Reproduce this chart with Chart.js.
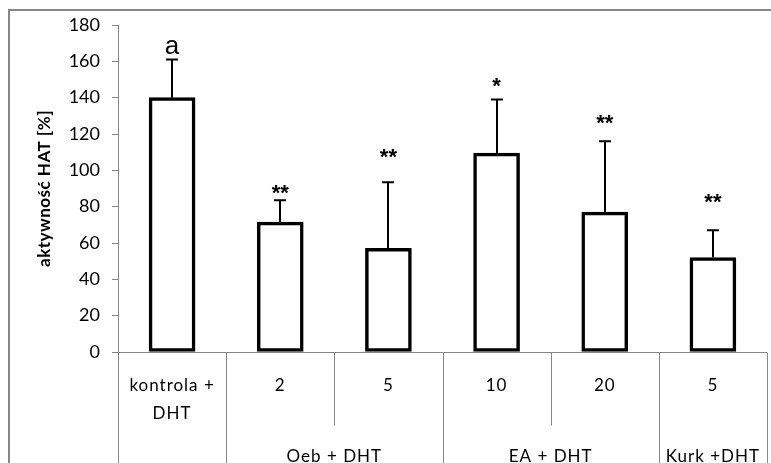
<!DOCTYPE html>
<html>
<head>
<meta charset="utf-8">
<script src="https://cdn.jsdelivr.net/npm/chart.js@4/dist/chart.umd.min.js"></script>
<style>
  html, body { margin: 0; padding: 0; background: #fff; }
  #wrap { width: 771px; height: 463px; position: relative; }
</style>
</head>
<body>
<div id="wrap"><canvas id="c" width="771" height="463"></canvas></div>
<script>
// ---- data ----
const categories = [['kontrola +', 'DHT'], ['2'], ['5'], ['10'], ['20'], ['5']];
const groupLabels = ['', 'Oeb + DHT', 'EA + DHT', 'Kurk +DHT'];
const groupSpans = [1, 2, 2, 1];
const values = [140, 71.5, 57, 109.5, 77, 52];
const errorsUp = [21, 12, 36.5, 29.5, 39, 15];
const marks = ['a', '**', '**', '*', '**', '**'];
const markLevels = [168, 89, 109, 148, 128, 84];
const yTicks = [0, 20, 40, 60, 80, 100, 120, 140, 160, 180];
const yTitle = 'aktywność HAT [%]';

const GRAY = '#868686';
const FONT = 'Lato, "Open Sans", sans-serif';

const decor = {
  id: 'decor',
  afterDraw(chart) {
    const ctx = chart.ctx;
    const xs = chart.scales.x, ys = chart.scales.y;
    const ca = chart.chartArea;
    const n = categories.length;
    const bounds = [];
    for (let i = 0; i <= n; i++) {
      if (i === 0) bounds.push(ca.left);
      else if (i === n) bounds.push(ca.right);
      else bounds.push((xs.getPixelForValue(i - 1) + xs.getPixelForValue(i)) / 2);
    }
    ctx.save();
    // outer frame
    ctx.strokeStyle = GRAY;
    ctx.lineWidth = 2;
    ctx.beginPath();
    ctx.moveTo(9, 463); ctx.lineTo(9, 10); ctx.lineTo(771, 10);
    ctx.stroke();
    // x axis line
    ctx.lineWidth = 1;
    const y0 = Math.round(ys.getPixelForValue(0)) + 0.5;
    ctx.beginPath();
    ctx.moveTo(ca.left, y0); ctx.lineTo(ca.right, y0);
    ctx.stroke();
    // dividers
    const groupBounds = new Set([0]);
    let acc = 0;
    groupSpans.forEach(s => { acc += s; groupBounds.add(acc); });
    for (let i = 0; i <= n; i++) {
      const x = Math.round(bounds[i]) + 0.5;
      const yEnd = groupBounds.has(i) ? 463 : y0 + 73;
      ctx.beginPath();
      ctx.moveTo(x, y0); ctx.lineTo(x, yEnd);
      ctx.stroke();
    }
    // category labels
    ctx.fillStyle = '#000';
    ctx.font = '17px ' + FONT;
    ctx.letterSpacing = '1px';
    ctx.textAlign = 'center';
    ctx.textBaseline = 'middle';
    categories.forEach((lines, i) => {
      const cx = xs.getPixelForValue(i);
      lines.forEach((t, j) => ctx.fillText(t, cx, y0 + 33 + j * 28));
    });
    // group labels
    let start = 0;
    groupSpans.forEach((s, g) => {
      const cx = (bounds[start] + bounds[start + s]) / 2;
      if (groupLabels[g]) ctx.fillText(groupLabels[g], cx, y0 + 104);
      start += s;
    });
    // y title
    ctx.save();
    ctx.translate(45, (ca.top + ca.bottom) / 2);
    ctx.rotate(-Math.PI / 2);
    ctx.font = 'bold 17px ' + FONT;
    ctx.letterSpacing = '0.5px';
    ctx.fillText(yTitle, 0, 0);
    ctx.restore();
    ctx.letterSpacing = '0px';
    // error bars
    ctx.strokeStyle = '#000';
    ctx.lineWidth = 2;
    const meta = chart.getDatasetMeta(0);
    meta.data.forEach((bar, i) => {
      const x = Math.round(bar.x);
      const yTop = ys.getPixelForValue(values[i] + errorsUp[i]);
      const yB = ys.getPixelForValue(values[i]);
      ctx.beginPath();
      ctx.moveTo(x, yB); ctx.lineTo(x, yTop);
      ctx.moveTo(x - 6, yTop); ctx.lineTo(x + 6, yTop);
      ctx.stroke();
    });
    // marks
    meta.data.forEach((bar, i) => {
      const y = ys.getPixelForValue(markLevels[i]);
      if (marks[i] === 'a') ctx.font = '26px "Liberation Sans", Arial, sans-serif';
      else ctx.font = 'bold 22px "Liberation Sans", Arial, sans-serif';
      ctx.textBaseline = 'middle';
      ctx.fillText(marks[i], bar.x, marks[i] === 'a' ? y : y + 4);
    });
    ctx.restore();
  }
};

new Chart(document.getElementById('c'), {
  type: 'bar',
  data: {
    labels: categories.map(c => c.join(' ')),
    datasets: [{
      data: values,
      backgroundColor: '#fff',
      borderColor: '#000',
      borderWidth: 3.5,
      borderSkipped: false,
      barThickness: 46
    }]
  },
  options: {
    responsive: false,
    animation: false,
    devicePixelRatio: 1,
    layout: { padding: { top: 25, bottom: 111, left: 0, right: 4 } },
    plugins: { legend: { display: false }, tooltip: { enabled: false } },
    scales: {
      x: { display: false, offset: true },
      y: {
        min: 0, max: 180,
        afterBuildTicks: s => { s.ticks = yTicks.map(v => ({ value: v })); },
        afterFit: s => { s.width = 118; },
        border: { color: GRAY, width: 1 },
        grid: { drawOnChartArea: false, tickLength: 6, color: GRAY },
        ticks: { color: '#000', font: { family: FONT, size: 18 }, padding: 12 }
      }
    }
  },
  plugins: [decor]
});
</script>
</body>
</html>
